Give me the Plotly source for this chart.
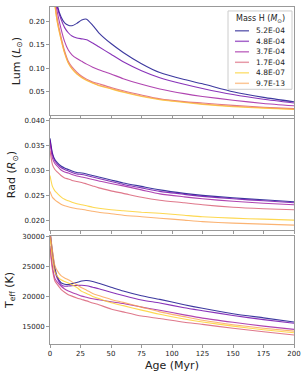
import plotly.graph_objects as go
from plotly.subplots import make_subplots

ages = [0, 2, 4, 6, 9, 12, 15, 18, 22, 26, 30, 35, 40, 50, 60, 75, 90, 110, 125, 150, 175, 200]
mass_labels = ["5.2E-04", "4.8E-04", "3.7E-04", "1.7E-04", "4.8E-07", "9.7E-13"]
colors = ["rgba(13,8,135,0.8)", "rgba(106,0,168,0.8)", "rgba(156,23,158,0.8)",
          "rgba(215,86,110,0.8)", "rgba(252,206,37,0.8)", "rgba(250,160,80,0.8)"]
legend_colors = ["rgba(13,8,135,0.6)", "rgba(106,0,168,0.6)", "rgba(156,23,158,0.6)",
                 "rgba(215,86,110,0.6)", "rgba(252,206,37,0.6)", "rgba(250,160,80,0.6)"]

lum_52 = [0.45, 0.33, 0.27, 0.235, 0.210, 0.197, 0.192, 0.191, 0.196, 0.203, 0.205, 0.192, 0.176, 0.153, 0.134, 0.110, 0.091, 0.076, 0.067, 0.050, 0.038, 0.0285]
lum_48 = [0.45, 0.33, 0.265, 0.23, 0.205, 0.187, 0.176, 0.169, 0.165, 0.163, 0.161, 0.154, 0.146, 0.130, 0.114, 0.095, 0.080, 0.066, 0.057, 0.044, 0.034, 0.026]
lum_37 = [0.42, 0.31, 0.25, 0.22, 0.185, 0.157, 0.139, 0.129, 0.121, 0.115, 0.109, 0.1025, 0.097, 0.088, 0.078, 0.066, 0.056, 0.046, 0.040, 0.032, 0.025, 0.020]
lum_17 = [0.42, 0.30, 0.24, 0.205, 0.168, 0.137, 0.115, 0.103, 0.092, 0.083, 0.077, 0.071, 0.067, 0.059, 0.052, 0.043, 0.035, 0.029, 0.026, 0.021, 0.017, 0.014]
lum_e7 = [0.42, 0.29, 0.235, 0.198, 0.162, 0.132, 0.111, 0.099, 0.088, 0.080, 0.074, 0.068, 0.063, 0.056, 0.049, 0.040, 0.033, 0.027, 0.023, 0.018, 0.015, 0.012]
lum_e13 = [0.42, 0.291, 0.236, 0.199, 0.163, 0.133, 0.112, 0.100, 0.089, 0.081, 0.075, 0.069, 0.064, 0.057, 0.050, 0.041, 0.034, 0.028, 0.024, 0.019, 0.016, 0.013]

rad_52 = [0.0365, 0.0335, 0.0322, 0.0316, 0.0309, 0.0305, 0.0302, 0.0299, 0.0296, 0.0295, 0.0293, 0.0290, 0.0287, 0.0281, 0.0275, 0.0268, 0.0261, 0.0254, 0.0250, 0.0245, 0.0241, 0.0237]
rad_48 = [0.0362, 0.0332, 0.0319, 0.0313, 0.0306, 0.0302, 0.0299, 0.0296, 0.0293, 0.0292, 0.0290, 0.0287, 0.0284, 0.0278, 0.0272, 0.0265, 0.0258, 0.0252, 0.0248, 0.0243, 0.0239, 0.0235]
rad_37 = [0.0355, 0.0325, 0.0314, 0.0309, 0.0301, 0.0297, 0.0295, 0.0292, 0.0289, 0.0287, 0.0285, 0.0282, 0.0279, 0.0274, 0.0269, 0.0261, 0.0253, 0.0247, 0.0243, 0.0238, 0.0234, 0.0231]
rad_17 = [0.0340, 0.0312, 0.0302, 0.0297, 0.0290, 0.0285, 0.0283, 0.0280, 0.0278, 0.0276, 0.0273, 0.0269, 0.0265, 0.0259, 0.0254, 0.0246, 0.0240, 0.0235, 0.0231, 0.0226, 0.0223, 0.0221]
rad_e7 = [0.0290, 0.0268, 0.0259, 0.0254, 0.0247, 0.0242, 0.0239, 0.0236, 0.0233, 0.0231, 0.0229, 0.0226, 0.0224, 0.0221, 0.0219, 0.0216, 0.0214, 0.0210, 0.0207, 0.0204, 0.0202, 0.0200]
rad_e13 = [0.0258, 0.0246, 0.0241, 0.0237, 0.0232, 0.0229, 0.0227, 0.0225, 0.0223, 0.0222, 0.0220, 0.0218, 0.0216, 0.0213, 0.0210, 0.0207, 0.0204, 0.0200, 0.0197, 0.0194, 0.0192, 0.0190]

teff_52 = [31000, 27500, 24800, 23300, 22300, 22050, 22000, 22150, 22350, 22600, 22670, 22500, 22200, 21550, 20900, 20100, 19500, 18600, 18000, 17100, 16400, 15700]
teff_48 = [31000, 27000, 24300, 23000, 22000, 21720, 21750, 21800, 21850, 21880, 21800, 21550, 21300, 20700, 20150, 19400, 18900, 18100, 17600, 16800, 16100, 15500]
teff_37 = [28500, 25000, 23000, 22400, 21750, 21250, 20900, 20650, 20350, 20050, 19850, 19600, 19450, 19100, 18800, 18200, 17670, 16900, 16350, 15650, 15000, 14450]
teff_17 = [28000, 24500, 22600, 22000, 21200, 20700, 20300, 20050, 19750, 19500, 19250, 18900, 18600, 17900, 17400, 16700, 16280, 15650, 15300, 14650, 14050, 13500]
teff_e7 = [30000, 26500, 24100, 23400, 22800, 22500, 22250, 21950, 21500, 20850, 20500, 20000, 19650, 18950, 18450, 17700, 17000, 16200, 15700, 15000, 14400, 13880]
teff_e13 = [31000, 27800, 25200, 24300, 23500, 23100, 22800, 22450, 21950, 21450, 21050, 20500, 20150, 19500, 19000, 18200, 17400, 16600, 16000, 15250, 14650, 14170]

lum = [lum_52, lum_48, lum_37, lum_17, lum_e7, lum_e13]
rad = [rad_52, rad_48, rad_37, rad_17, rad_e7, rad_e13]
teff = [teff_52, teff_48, teff_37, teff_17, teff_e7, teff_e13]

x_ticks = [0, 25, 50, 75, 100, 125, 150, 175, 200]
lum_ticks = [0.05, 0.10, 0.15, 0.20]
rad_ticks = [0.020, 0.025, 0.030, 0.035, 0.040]
teff_ticks = [15000, 20000, 25000, 30000]

FONT = "DejaVu Sans"
W, H = 306, 376
ML, MR, MT, MB = 50, 12, 4, 32
PW, PH = W - ML - MR, H - MT - MB


def px(x):
    return (x - ML) / PW


def py(y):
    return 1 - (y - MT) / PH


fig = make_subplots(rows=3, cols=1, shared_xaxes=True, vertical_spacing=0.0)

for i in range(6):
    for row, data in ((1, lum), (2, rad), (3, teff)):
        fig.add_trace(go.Scatter(x=ages, y=data[i], mode="lines", name=mass_labels[i],
                                 line=dict(color=colors[i], width=1.1, shape="spline", smoothing=0.6),
                                 showlegend=False),
                      row=row, col=1)

axis_common = dict(showline=True, linecolor="#999999", linewidth=1, mirror=True,
                   ticks="outside", ticklen=3, tickcolor="#999999", showgrid=False, zeroline=False,
                   tickfont=dict(family=FONT, size=7, color="#222222"))

# manual legend (box, title, entries)
shapes = [dict(type="rect", xref="paper", yref="paper", x0=px(228), x1=px(292), y0=py(87), y1=py(8),
               line=dict(color="#cccccc", width=1), fillcolor="rgba(255,255,255,0.9)", layer="above")]
annotations = [dict(xref="paper", yref="paper", x=px(260), y=py(16), text="Mass H (<i>M</i><sub>⊙</sub>)",
                    showarrow=False, xanchor="center", yanchor="middle",
                    font=dict(family=FONT, size=8, color="#222222"))]
for i, lab in enumerate(mass_labels):
    yy = 28 + i * 10.6
    shapes.append(dict(type="line", xref="paper", yref="paper", x0=px(235), x1=px(249), y0=py(yy), y1=py(yy),
                       line=dict(color=legend_colors[i], width=1.5), layer="above"))
    annotations.append(dict(xref="paper", yref="paper", x=px(254), y=py(yy), text=lab, showarrow=False,
                            xanchor="left", yanchor="middle",
                            font=dict(family=FONT, size=7.5, color="#222222")))

fig.update_layout(
    width=W, height=H,
    margin=dict(l=ML, r=MR, t=MT, b=MB),
    plot_bgcolor="white", paper_bgcolor="white",
    font=dict(family=FONT, color="#222222"),
    showlegend=False,
    shapes=shapes, annotations=annotations,
    yaxis=dict(domain=[0.679, 1.0], range=[0.0, 0.231], tickvals=lum_ticks,
               ticktext=["0.05", "0.10", "0.15", "0.20"],
               title=dict(text="Lum (<i>L</i><sub>⊙</sub>)", font=dict(size=11), standoff=6), **axis_common),
    yaxis2=dict(domain=[0.338, 0.668], range=[0.018, 0.0404], tickvals=rad_ticks,
                ticktext=["0.020", "0.025", "0.030", "0.035", "0.040"],
                title=dict(text="Rad (<i>R</i><sub>⊙</sub>)", font=dict(size=11), standoff=6), **axis_common),
    yaxis3=dict(domain=[0.0, 0.3206], range=[12000, 30170], tickvals=teff_ticks,
                ticktext=["15000", "20000", "25000", "30000"],
                title=dict(text="T<sub>eff</sub> (K)", font=dict(size=11), standoff=6), **axis_common),
    xaxis=dict(range=[0, 200], tickvals=x_ticks, showticklabels=False, **axis_common),
    xaxis2=dict(range=[0, 200], tickvals=x_ticks, showticklabels=False, **axis_common),
    xaxis3=dict(range=[0, 200], tickvals=x_ticks, ticktext=[str(t) for t in x_ticks],
                title=dict(text="Age (Myr)", font=dict(size=11), standoff=3), **axis_common),
)

fig.write_html("out.html", config={"displayModeBar": False},
               post_script="document.body.style.margin='0';document.body.style.overflow='hidden';")
